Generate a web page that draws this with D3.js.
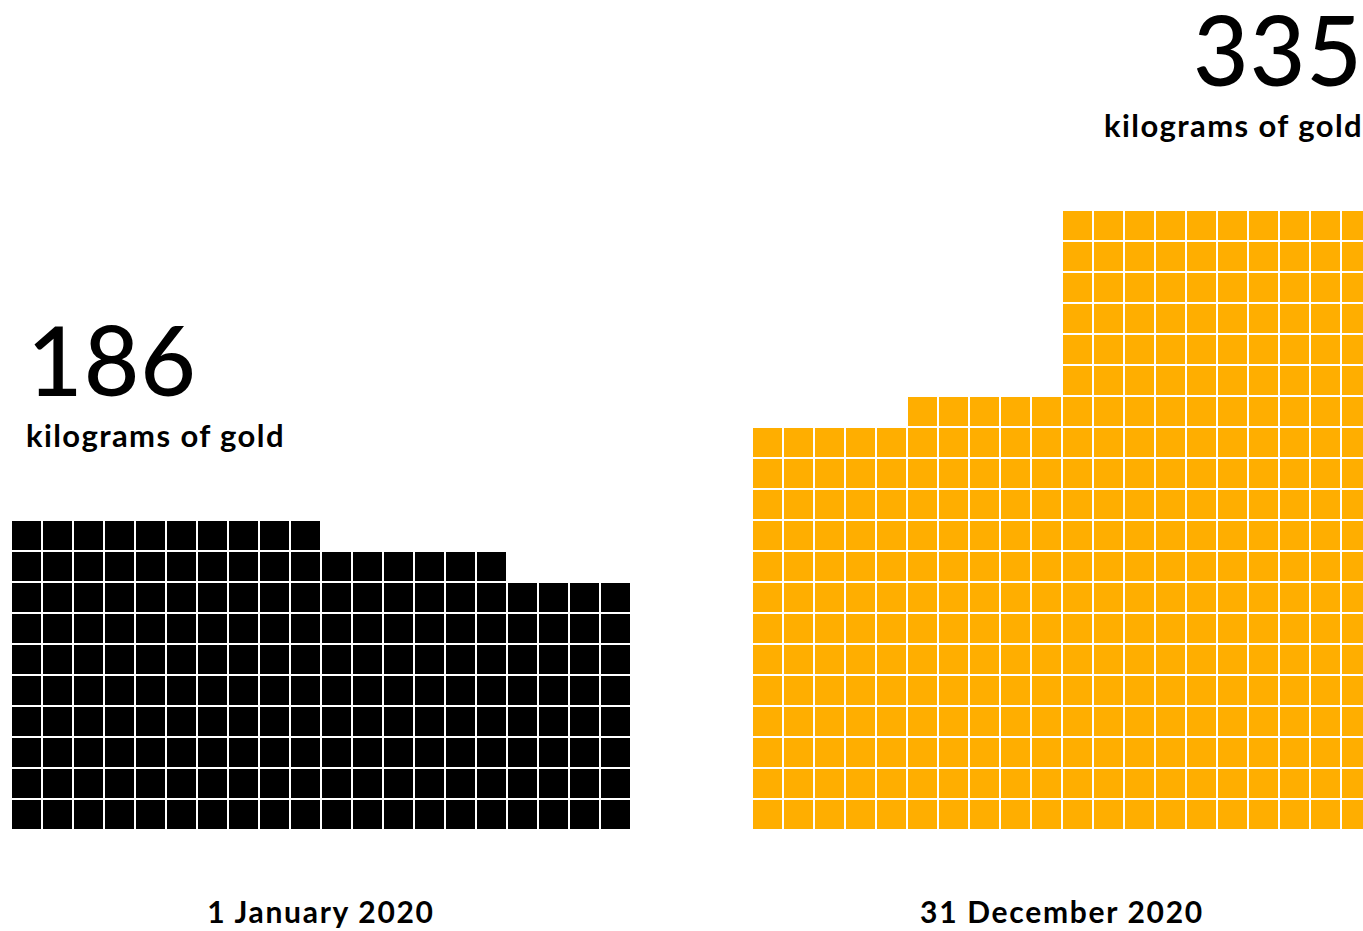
<!DOCTYPE html>
<html>
<head>
<meta charset="utf-8">
<script src="https://cdn.jsdelivr.net/npm/d3@7"></script>
<style>
  body { margin: 0; background: #fff; }
  svg { display: block; font-family: "Lato", "Open Sans", sans-serif; }
</style>
</head>
<body>
<div id="chart"></div>
<script>
// totals shown above each waffle (kg of gold)
var totals = [186, 335];
var dates = ["1 January 2020", "31 December 2020"];
var colors = ["#000000", "#ffae00"];
// stacked squares per column, left to right
var leftColumns = [10, 10, 10, 10, 10, 10, 10, 10, 10, 10, 9, 9, 9, 9, 9, 9, 8, 8, 8, 8];
var rightColumns = [13, 13, 13, 13, 13, 14, 14, 14, 14, 14, 20, 20, 20, 20, 20, 20, 20, 20, 20, 20];

var width = 1363, height = 931;
var cell = 31, bottom = 830;

var svg = d3.select("#chart").append("svg")
    .attr("width", width)
    .attr("height", height);

var panels = [
    {x0: 11, cols: leftColumns, total: totals[0], date: dates[0], color: colors[0]},
    {x0: 752, cols: rightColumns, total: totals[1], date: dates[1], color: colors[1]}
];

// one row scale shared by both waffles
var y = d3.scaleLinear()
    .domain([0, 20])
    .range([bottom, bottom - 20 * cell]);

panels.forEach(function(p, pi){
    var x = d3.scaleBand()
        .domain(d3.range(p.cols.length))
        .range([p.x0, p.x0 + p.cols.length * cell])
        .paddingInner(0);

    var cells = [];
    p.cols.forEach(function(h, c){
        d3.range(h).forEach(function(r){ cells.push({c: c, r: r}); });
    });

    var g = svg.append("g").attr("class", "waffle");
    g.selectAll("rect")
        .data(cells)
        .enter().append("rect")
        .attr("x", function(d){ return x(d.c); })
        .attr("y", function(d){ return y(d.r + 1); })
        .attr("width", x.bandwidth())
        .attr("height", y(0) - y(1))
        .attr("fill", p.color)
        .attr("stroke", "#fff")
        .attr("stroke-width", 2);

    var maxH = d3.max(p.cols);
    var top = y(maxH);
    var cx = p.x0 + p.cols.length * cell / 2;

    // date label under the waffle
    svg.append("text")
        .attr("x", cx)
        .attr("y", 923)
        .attr("text-anchor", "middle")
        .attr("font-size", 30)
        .attr("font-weight", 700)
        .attr("letter-spacing", 1.7)
        .text(p.date);

    // total + unit, left aligned on the first panel, right aligned on the second
    var anchor = pi === 0 ? "start" : "end";
    svg.append("text")
        .attr("x", pi === 0 ? 27 : 1363)
        .attr("y", top - 124)
        .attr("text-anchor", anchor)
        .attr("font-size", 96)
        .attr("font-weight", 500)
        .attr("letter-spacing", 1)
        .text(p.total);
    svg.append("text")
        .attr("x", pi === 0 ? 26 : 1363)
        .attr("y", top - 73)
        .attr("text-anchor", anchor)
        .attr("font-size", 31)
        .attr("font-weight", 700)
        .attr("letter-spacing", 1.4)
        .text("kilograms of gold");
});
</script>
</body>
</html>
